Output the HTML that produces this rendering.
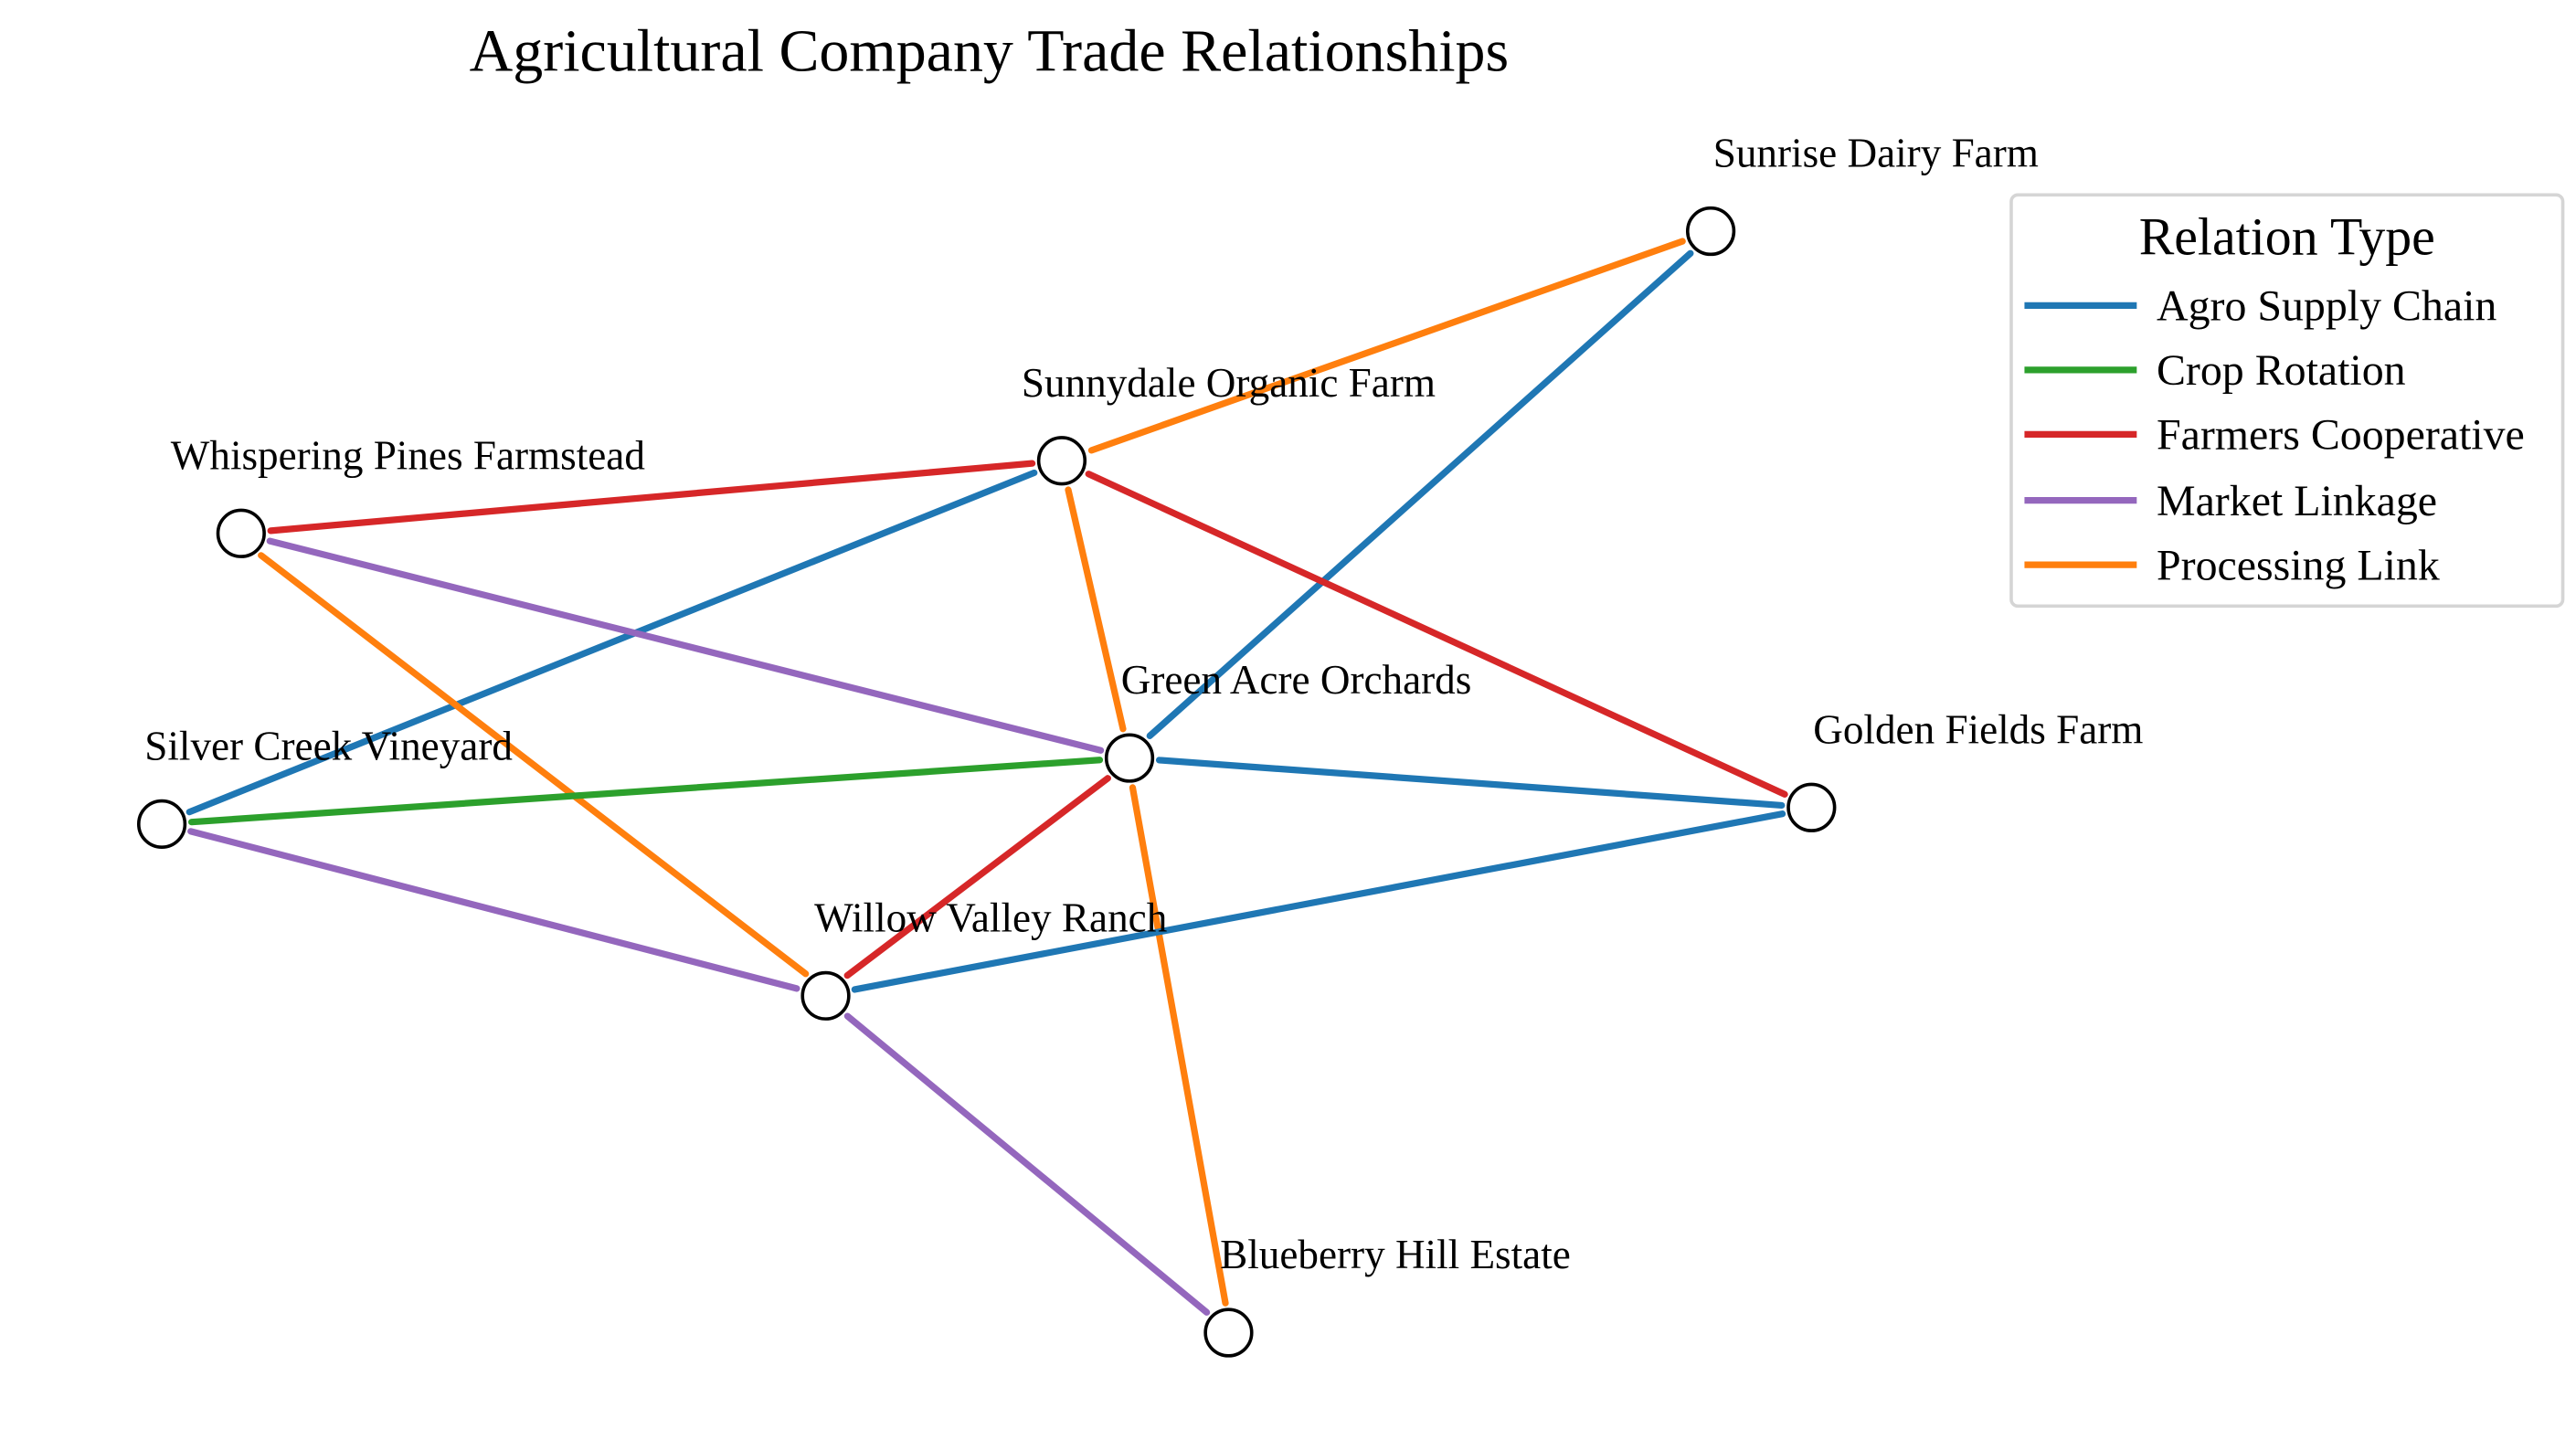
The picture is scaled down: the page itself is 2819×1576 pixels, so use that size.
<!DOCTYPE html>
<html><head><meta charset="utf-8"><style>html,body{margin:0;padding:0;background:#fff;}svg{display:block;}</style></head>
<body>
<svg width="2819" height="1576" viewBox="0 0 1560 872" preserveAspectRatio="none" xmlns="http://www.w3.org/2000/svg" font-family="Liberation Serif, serif">
<text x="599" y="43" font-size="36.5" text-anchor="middle">Agricultural Company Trade Relationships</text>
<g stroke-width="4" stroke-linecap="round" fill="none">
<line x1="661.0" y1="272.7" x2="1018.9" y2="146.1" stroke="#ff7f0e"/>
<line x1="1023.7" y1="153.4" x2="696.3" y2="445.6" stroke="#1f77b4"/>
<line x1="625.1" y1="280.6" x2="163.9" y2="321.4" stroke="#d62728"/>
<line x1="626.3" y1="286.3" x2="114.7" y2="491.7" stroke="#1f77b4"/>
<line x1="646.9" y1="296.6" x2="680.1" y2="441.4" stroke="#ff7f0e"/>
<line x1="659.2" y1="287.0" x2="1080.8" y2="481.0" stroke="#d62728"/>
<line x1="163.4" y1="327.6" x2="666.6" y2="454.4" stroke="#9467bd"/>
<line x1="158.1" y1="336.3" x2="487.9" y2="589.7" stroke="#ff7f0e"/>
<line x1="116.0" y1="497.8" x2="666.0" y2="460.2" stroke="#2ca02c"/>
<line x1="115.5" y1="503.4" x2="482.5" y2="598.6" stroke="#9467bd"/>
<line x1="702.0" y1="460.3" x2="1079.0" y2="487.7" stroke="#1f77b4"/>
<line x1="670.9" y1="471.3" x2="513.1" y2="590.7" stroke="#d62728"/>
<line x1="685.9" y1="476.9" x2="742.1" y2="789.1" stroke="#ff7f0e"/>
<line x1="517.6" y1="599.2" x2="1079.4" y2="492.8" stroke="#1f77b4"/>
<line x1="513.2" y1="615.3" x2="730.8" y2="794.7" stroke="#9467bd"/>
</g>
<g fill="#fff" stroke="#000" stroke-width="2">
<circle cx="1036" cy="140" r="14"/>
<circle cx="643" cy="279" r="14"/>
<circle cx="146" cy="323" r="14"/>
<circle cx="684" cy="459" r="14"/>
<circle cx="98" cy="499" r="14"/>
<circle cx="1097" cy="489" r="14"/>
<circle cx="500" cy="603" r="14"/>
<circle cx="744" cy="807" r="14"/>
</g>
<g font-size="25" text-anchor="middle" fill="#000">
<text x="1136" y="101">Sunrise Dairy Farm</text>
<text x="744" y="240">Sunnydale Organic Farm</text>
<text x="247" y="284">Whispering Pines Farmstead</text>
<text x="785" y="420">Green Acre Orchards</text>
<text x="199" y="460">Silver Creek Vineyard</text>
<text x="1198" y="450">Golden Fields Farm</text>
<text x="600" y="564">Willow Valley Ranch</text>
<text x="845" y="768">Blueberry Hill Estate</text>
</g>
<rect x="1218" y="118" width="334" height="249" rx="4" fill="#fff" stroke="#d5d5d5" stroke-width="2"/>
<text x="1385" y="154" font-size="32" text-anchor="middle">Relation Type</text>
<g stroke-width="4">
<line x1="1226" y1="185" x2="1294" y2="185" stroke="#1f77b4"/>
<line x1="1226" y1="224" x2="1294" y2="224" stroke="#2ca02c"/>
<line x1="1226" y1="263" x2="1294" y2="263" stroke="#d62728"/>
<line x1="1226" y1="303" x2="1294" y2="303" stroke="#9467bd"/>
<line x1="1226" y1="342" x2="1294" y2="342" stroke="#ff7f0e"/>
</g>
<g font-size="26.5">
<text x="1306" y="194">Agro Supply Chain</text>
<text x="1306" y="233">Crop Rotation</text>
<text x="1306" y="272">Farmers Cooperative</text>
<text x="1306" y="312">Market Linkage</text>
<text x="1306" y="351">Processing Link</text>
</g>
</svg>
</body></html>
